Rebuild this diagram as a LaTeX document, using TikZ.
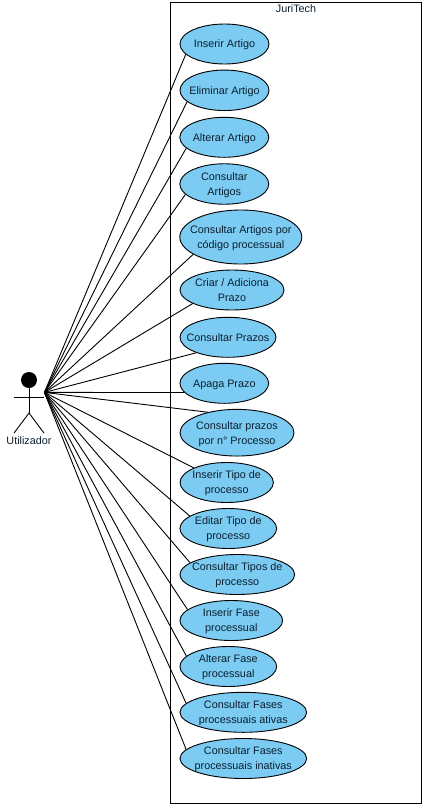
\documentclass[tikz,border=0pt]{standalone}
\usepackage{fontspec}
\setmainfont{Liberation Sans}
\usetikzlibrary{shapes.geometric}
\definecolor{ucfill}{HTML}{7BCBF2}
\definecolor{uctext}{HTML}{0C2030}
\tikzset{
  uc/.style={ellipse,draw=black,line width=0.9pt,fill=ucfill,inner xsep=-15pt,inner ysep=-9pt,align=center,text=uctext,text depth=0pt,font=\fontsize{10.8}{15}\selectfont},
  uc size/.style 2 args={minimum width=#1pt,minimum height=#2pt},
  link/.style={draw=black,line width=0.9pt},
  actorline/.style={draw=black,line width=0.9pt},
}
\begin{document}
\begin{tikzpicture}[x=1pt,y=-1pt]
\useasboundingbox[fill=white] (0,0) rectangle (426,806);
\node[draw=black,line width=1pt,minimum width=251pt,minimum height=801pt,inner sep=0pt] (sys) at (296,402.5) {};
\node[font=\fontsize{10.8}{12}\selectfont,text=uctext,anchor=center] (title) at (296,9) {JuriTech};
\coordinate (hub) at (44.4,392.4);
\node[uc,uc size={89}{40}] (a1) at (224.5,44) {Inserir Artigo};
\node[uc,uc size={89}{40.5}] (a2) at (224.5,90.3) {Eliminar Artigo};
\node[uc,uc size={89}{40}] (a3) at (224.3,137.3) {Alterar Artigo};
\node[uc,uc size={89}{40.5}] (a4) at (224.3,184) {Consultar\\Artigos};
\node[uc,uc size={122}{54}] (a5) at (240.8,237) {Consultar Artigos por\\código processual};
\node[uc,uc size={104}{40}] (a6) at (232,290) {Criar / Adiciona\\Prazo};
\node[uc,uc size={96}{40}] (a7) at (228,337.3) {Consultar Prazos};
\node[uc,uc size={88.7}{40}] (a8) at (224.3,383.3) {Apaga Prazo};
\node[uc,uc size={114}{46.7}] (a9) at (237,432.7) {Consultar prazos\\por n° Processo};
\node[uc,uc size={93.3}{40}] (a10) at (226.7,482.5) {Inserir Tipo de\\processo};
\node[uc,uc size={96.7}{40}] (a11) at (228.3,528.5) {Editar Tipo de\\processo};
\node[uc,uc size={114.7}{40}] (a12) at (237.3,574.5) {Consultar Tipos de\\processo};
\node[uc,uc size={102.7}{40}] (a13) at (231.3,620.5) {Inserir Fase\\processual};
\node[uc,uc size={96.7}{40}] (a14) at (228.3,666.5) {Alterar Fase\\processual};
\node[uc,uc size={126.7}{40}] (a15) at (243.3,712.3) {Consultar Fases\\processuais ativas};
\node[uc,uc size={126.7}{40}] (a16) at (243.3,758.5) {Consultar Fases\\processuais inativas};
\draw[link] (hub) -- (a1.195.6);
\draw[link] (hub) -- (a2.197);
\draw[link] (hub) -- (a3.196.3);
\draw[link] (hub) -- (a4.195.8);
\draw[link] (hub) -- (a5.200);
\draw[link] (hub) -- (a6.199.4);
\draw[link] (hub) -- (a7.206);
\draw[link] (hub) -- (a8.193);
\draw[link] (hub) -- (a9.145.3);
\draw[link] (hub) -- (a10.156.5);
\draw[link] (hub) -- (a11.162);
\draw[link] (hub) -- (a12.166.5);
\draw[link] (hub) -- (a13.166);
\draw[link] (hub) -- (a14.166.4);
\draw[link] (hub) -- (a15.171);
\draw[link] (hub) -- (a16.171.5);
\node[circle,fill=black,minimum size=16pt,inner sep=0pt] (head) at (29,380) {};
\coordinate (hip) at (29,413);
\coordinate (shl) at (14,397);
\coordinate (shr) at (44,397);
\coordinate (footl) at (14,433);
\coordinate (footr) at (44,433);
\draw[actorline] (head) -- (hip);
\draw[actorline] (shl) -- (shr);
\draw[actorline] (footl) -- (hip) -- (footr);
\node[font=\fontsize{10.8}{12}\selectfont,text=uctext] (actor) at (29,441) {Utilizador};
\end{tikzpicture}
\end{document}
